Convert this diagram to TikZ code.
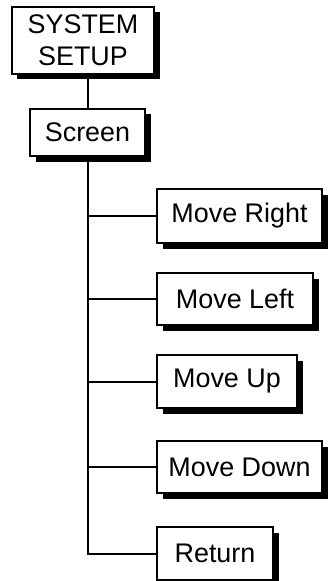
\documentclass[tikz,border=0pt]{standalone}
\usepackage{fontspec}
\setmainfont{Liberation Sans}
\usetikzlibrary{shadows}
\begin{document}
\begin{tikzpicture}[x=1bp, y=-1bp,
    menu/.style={draw, line width=2.2bp, fill=white, align=center, inner sep=0pt,
      font=\fontsize{27}{32}\selectfont,
      drop shadow={shadow xshift=5.5bp, shadow yshift=-5.5bp, fill=black, opacity=1}},
    link/.style={line width=2bp}]
  \fill[white] (0, 0) rectangle (329, 581);
  \useasboundingbox (0, 0) rectangle (329, 581);

  % Menu boxes
  \node[menu, minimum width=142bp, minimum height=67bp] (sys) at (83, 40.5) {SYSTEM\\SETUP};
  \node[menu, minimum width=115bp, minimum height=47bp] (scr) at (87.5, 132.5) {Screen};

  \node[menu, minimum width=165bp, minimum height=54bp] (mr) at (239.5, 216) {Move Right};
  \node[menu, minimum width=156bp, minimum height=52bp] (ml) at (235, 299) {Move Left};
  \node[menu, minimum width=140bp, minimum height=53bp] (mu) at (227, 381.5) {Move Up};
  \node[menu, minimum width=165bp, minimum height=52bp] (md) at (239.5, 467) {Move Down};
  \node[menu, minimum width=116bp, minimum height=53bp] (ret) at (215, 553.5) {Return};

  % Tree lines
  \draw[link] (sys.south -| scr.north) -- (scr.north);
  \draw[link] (scr.south) |- (ret.west);
  \foreach \item in {mr, ml, mu, md}
    \draw[link] (scr.south |- \item.west) -- (\item.west);
\end{tikzpicture}
\end{document}
